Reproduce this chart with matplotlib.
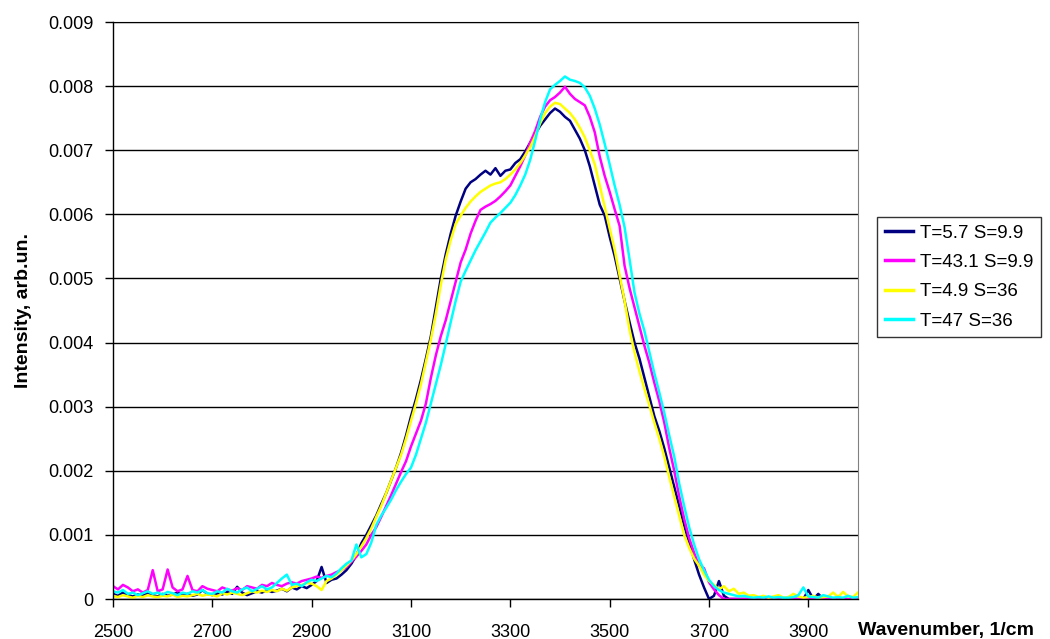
import numpy as np
import matplotlib
matplotlib.use("Agg")
import matplotlib.pyplot as plt

# Wavenumber grid (1/cm), 10 cm^-1 step
wavenumber = np.arange(2500, 4001, 10)

# Intensities in units of 1e-5 arb.un.
t57_s99 = [
    8, 5, 10, 6, 4, 7, 5, 9, 6, 4,
    8, 5, 7, 10, 6, 8, 5, 7, 14, 8,
    6, 9, 7, 11, 8, 19, 10, 6, 9, 12,
    10, 14, 11, 13, 16, 12, 18, 15, 20, 17,
    22, 28, 50, 25, 30, 32, 38, 45, 55, 68,
    87, 100, 115, 130, 148, 165, 185, 205, 228, 255,
    285, 312, 342, 375, 410, 455, 500, 538, 570, 598,
    620, 640, 650, 655, 662, 668, 662, 672, 660, 668,
    670, 680, 686, 698, 712, 725, 738, 748, 758, 765,
    760, 752, 746, 732, 718, 700, 675, 645, 615, 598,
    565, 535, 500, 465, 432, 400, 375, 345, 315, 285,
    262, 235, 205, 175, 145, 115, 88, 62, 38, 18,
    0, 5, 28, 5, 0, 0, 0, 0, 0, 0,
    0, 0, 0, 0, 0, 0, 0, 0, 0, 0,
    14, 0, 8, 0, 0, 0, 0, 0, 0, 0,
    0,
]

t431_s99 = [
    20, 15, 22, 18, 12, 15, 10, 14, 45, 12,
    15, 46, 18, 12, 15, 36, 14, 12, 20, 16,
    14, 12, 18, 15, 13, 17, 14, 20, 18, 16,
    22, 20, 25, 22, 20, 24, 26, 24, 28, 30,
    32, 35, 33, 36, 38, 42, 45, 50, 58, 66,
    75, 85, 100, 112, 128, 145, 162, 180, 198, 215,
    238, 258, 278, 305, 345, 380, 410, 435, 465, 495,
    525, 545, 570, 590, 607, 612, 616, 621, 628, 636,
    645, 660, 675, 692, 712, 730, 752, 768, 778, 783,
    790, 799, 788, 780, 775, 770, 752, 728, 690, 660,
    635, 608, 582, 520, 485, 455, 425, 395, 368, 337,
    308, 275, 235, 200, 160, 125, 95, 72, 52, 48,
    26, 15, 6, 0, 0, 0, 0, 0, 0, 0,
    0, 0, 0, 0, 0, 0, 0, 0, 0, 0,
    0, 0, 0, 0, 0, 0, 0, 0, 0, 0,
    0,
]

t49_s36 = [
    5, 3, 6, 4, 2, 5, 3, 6, 4, 3,
    5, 4, 7, 3, 5, 4, 6, 8, 5, 7,
    6, 4, 9, 7, 10, 8, 6, 9, 12, 10,
    13, 11, 14, 12, 16, 13, 18, 20, 22, 25,
    24, 20, 14, 28, 32, 38, 45, 52, 60, 70,
    82, 95, 110, 128, 145, 165, 185, 205, 225, 250,
    278, 305, 335, 370, 405, 445, 490, 530, 560, 585,
    598, 610, 620, 628, 635, 640, 645, 648, 650, 655,
    662, 670, 680, 692, 705, 722, 742, 758, 768, 774,
    772, 765, 758, 748, 735, 720, 700, 678, 645, 612,
    578, 545, 505, 465, 420, 385, 355, 328, 302, 275,
    250, 222, 190, 160, 130, 100, 80, 63, 52, 38,
    28, 22, 15, 20, 12, 16, 8, 10, 5, 6,
    3, 5, 2, 4, 6, 2, 3, 8, 4, 2,
    3, 5, 2, 3, 4, 10, 3, 11, 4, 3,
    10,
]

t47_s36 = [
    12, 10, 14, 8, 10, 6, 9, 12, 8, 10,
    7, 11, 9, 6, 10, 8, 12, 10, 14, 9,
    8, 12, 10, 16, 12, 10, 15, 18, 12, 16,
    20, 15, 18, 25, 32, 38, 22, 24, 20, 26,
    30, 28, 32, 36, 34, 40, 48, 55, 60, 85,
    65, 70, 88, 115, 130, 142, 155, 170, 183, 195,
    205, 225, 250, 275, 305, 335, 365, 398, 432, 465,
    495, 512, 528, 544, 558, 572, 587, 595, 602, 610,
    618, 630, 645, 662, 685, 715, 748, 775, 795, 802,
    808, 815, 810, 808, 805, 798, 785, 765, 740, 710,
    678, 645, 615, 580, 530, 478, 445, 418, 385, 352,
    322, 290, 255, 222, 180, 145, 112, 85, 62, 45,
    30, 20, 14, 10, 8, 6, 4, 5, 3, 2,
    3, 2, 4, 2, 3, 2, 2, 3, 6, 18,
    4, 3, 2, 6, 4, 2, 3, 2, 5, 2,
    3,
]

series = [
    ("T=5.7 S=9.9", t57_s99, "#000080"),
    ("T=43.1 S=9.9", t431_s99, "#FF00FF"),
    ("T=4.9 S=36", t49_s36, "#FFFF00"),
    ("T=47 S=36", t47_s36, "#00FFFF"),
]

x_ticks = [2500, 2700, 2900, 3100, 3300, 3500, 3700, 3900]
y_ticks = [0, 0.001, 0.002, 0.003, 0.004, 0.005, 0.006, 0.007, 0.008, 0.009]
y_tick_labels = ["0", "0.001", "0.002", "0.003", "0.004", "0.005",
                 "0.006", "0.007", "0.008", "0.009"]

plt.rcParams['font.family'] = ['Liberation Sans', 'DejaVu Sans']

fig = plt.figure(figsize=(10.5, 6.39), dpi=100)
ax = fig.add_axes([113 / 1050, 40 / 639, 745 / 1050, 577 / 639])

for label, vals, color in series:
    ax.plot(wavenumber, np.array(vals) * 1e-5, color=color, lw=1.8, label=label,
            solid_joinstyle='round')

ax.set_xlim(2500, 4000)
ax.set_ylim(0, 0.009)
ax.set_xticks(x_ticks)
ax.set_yticks(y_ticks)
ax.set_yticklabels(y_tick_labels)
ax.tick_params(axis='both', direction='out', length=6, width=1, color='black',
               labelsize=13)
ax.tick_params(axis='y', pad=8)
ax.tick_params(axis='x', pad=12)
ax.grid(axis='y', color='black', lw=1)
ax.set_axisbelow(True)
for s in ['left', 'bottom']:
    ax.spines[s].set_color('black')
    ax.spines[s].set_linewidth(1)
ax.spines['right'].set_color('#808080')
ax.spines['top'].set_color('black')

ax.set_ylabel("Intensity, arb.un.", fontsize=14, fontweight='bold', labelpad=12)
fig.text(858 / 1050, 1 - 630 / 639, "Wavenumber, 1/cm", fontsize=14,
         fontweight='bold', ha='left', va='center')

leg = ax.legend(loc='upper left', bbox_to_anchor=(877 / 1050, 1 - 217 / 639),
                bbox_transform=fig.transFigure, fontsize=13.5, frameon=True,
                fancybox=False, shadow=False, handlelength=1.5,
                handletextpad=0.4, labelspacing=0.65, borderpad=0.4,
                borderaxespad=0)
leg.get_frame().set_edgecolor('black')
leg.get_frame().set_linewidth(1)
for line in leg.get_lines():
    line.set_linewidth(2.5)

fig.savefig("out.png", dpi=100)
